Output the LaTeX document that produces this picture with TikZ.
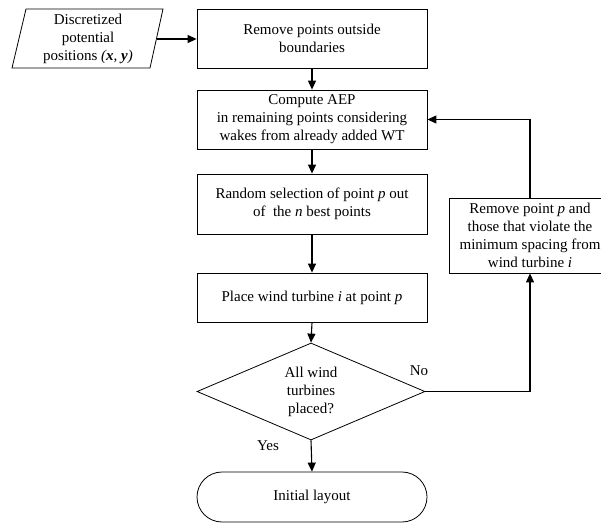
\documentclass[tikz,border=0pt]{standalone}
\usepackage{fontspec}
\setmainfont{Liberation Serif}
\usetikzlibrary{shapes.geometric,arrows.meta}
\begin{document}
\begin{tikzpicture}[x=1pt,y=-1pt,
  font=\fontsize{15}{18}\selectfont,
  box/.style={draw,line width=0.8pt,align=center,minimum width=230pt,inner sep=0pt},
  arr/.style={line width=1.1pt,-{Triangle[length=9pt,width=8pt]}}]
\clip (0,0) rectangle (601,523);
% input parallelogram
\coordinate (p1) at (26,9);
\coordinate (p2) at (163,9);
\coordinate (p3) at (150,68);
\coordinate (p4) at (12,68);
\draw[line width=0.8pt] (p1) -- (p2) -- (p3) -- (p4) -- cycle;
\node[align=center,inner sep=0pt] (in) at (88,39) {Discretized\\potential\\positions \textit{(\textbf{x}, \textbf{y})}};
\coordinate (pe) at (156.5,39);
% boxes
\node[box,minimum height=59pt] (b1) at (312,38.5) {Remove points outside\\boundaries};
\node[box,minimum height=59pt] (b2) at (312,119.5) {Compute AEP\\in remaining points considering\\wakes from already added WT};
\node[box,minimum height=60pt] (b3) at (312,204) {Random selection of point \textit{p} out\\of\ \ the \textit{n} best points};
\node[box,minimum height=49pt] (b4) at (312,297.5) {Place wind turbine \textit{i} at point \textit{p}};
\node[draw,diamond,aspect=2.35,line width=0.8pt,minimum width=228pt,minimum height=97pt,inner sep=0pt,align=center] (d) at (311,391.5) {All wind\\turbines\\placed?};
\node[draw,line width=0.8pt,rounded corners=25pt,minimum width=230pt,minimum height=50pt,inner sep=0pt] (t) at (312,497) {Initial layout};
\node[box,minimum width=162pt,minimum height=75pt] (r) at (530,235.5) {Remove point \textit{p} and\\those that violate the\\minimum spacing from\\wind turbine \textit{i}};
% connectors
\draw[arr] (pe) -- (pe -| b1.west);
\draw[arr] (b1.south) -- (b2.north);
\draw[arr] (b2.south) -- (b3.north);
\draw[arr] (b3.south) -- (b4.north);
\draw[arr] (b4.south) -- (d.north);
\draw[arr] (d.south) -- (t.north);
\draw[arr] (d.east) -| (r.south);
\draw[arr] (r.north) |- (b2.east);
\node (yes) at (268,446) {Yes};
\node (no) at (419,371) {No};
\end{tikzpicture}
\end{document}
